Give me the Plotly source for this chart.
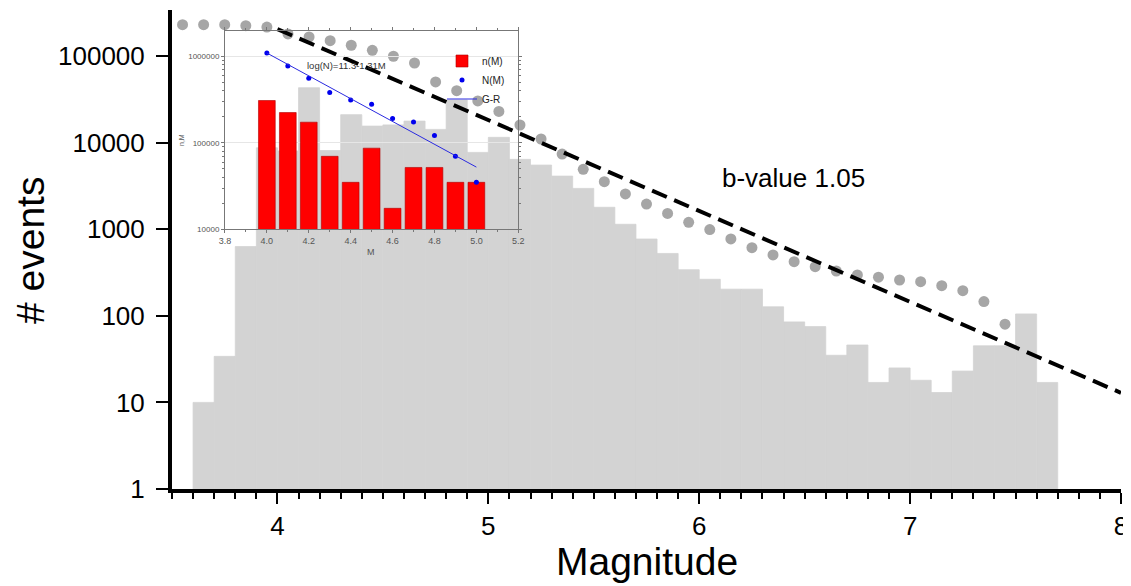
import plotly.graph_objects as go

# ---------------- data ----------------
# main histogram (bin centres, width 0.1)
hist_mag = [3.65, 3.75, 3.85, 3.95, 4.05, 4.15, 4.25, 4.35, 4.45, 4.55,
            4.65, 4.75, 4.85, 4.95, 5.05, 5.15, 5.25, 5.35, 5.45, 5.55,
            5.65, 5.75, 5.85, 5.95, 6.05, 6.15, 6.25, 6.35, 6.45, 6.55,
            6.65, 6.75, 6.85, 6.95, 7.05, 7.15, 7.25, 7.35, 7.45, 7.55,
            7.65]
hist_count = [10, 34, 630, 8700, 8000, 43000, 8100, 21000, 15500, 16000,
              17700, 14200, 31000, 7700, 11500, 6400, 5500, 4100, 2960, 1790,
              1140, 770, 525, 340, 264, 203, 203, 127, 85, 75,
              35, 46, 17, 25, 18, 13, 23, 45, 45, 105,
              17]

# cumulative number of events (grey dots)
cum_mag = [3.55, 3.65, 3.75, 3.85, 3.95, 4.05, 4.15, 4.25, 4.35, 4.45,
           4.55, 4.65, 4.75, 4.85, 4.95, 5.05, 5.15, 5.25, 5.35, 5.45,
           5.55, 5.65, 5.75, 5.85, 5.95, 6.05, 6.15, 6.25, 6.35, 6.45,
           6.55, 6.65, 6.75, 6.85, 6.95, 7.05, 7.15, 7.25, 7.35, 7.45]
cum_count = [230000, 230000, 230000, 224000, 216000, 179500, 165600, 150300, 133000, 116400,
             99300, 83000, 50100, 39800, 30300, 22900, 15960, 11000, 7380, 4920,
             3540, 2550, 1950, 1520, 1200, 990, 771, 611, 504, 422,
             369, 329, 296, 279, 259, 248, 223, 195, 146, 80]

# b-value fit line (end points)
fit_mag = [4.0, 8.0]
fit_count = [204000, 12.9]
bvalue_label = "b-value 1.05"

# inset data
inset_mag = [4.0, 4.1, 4.2, 4.3, 4.4, 4.5, 4.6, 4.7, 4.8, 4.9, 5.0]
inset_nM = [310000, 225000, 174000, 70000, 35000, 87000, 17500, 52000, 52000, 35000, 35000]
inset_NM = [1100000, 780000, 560000, 385000, 315000, 280000, 192000, 175000, 122000, 70000, 35000]
inset_gr_mag = [4.0, 5.0]
inset_gr_count = [1100000, 52500]
inset_label = "log(N)=11.3-1.31M"

main_yticks = [1, 10, 100, 1000, 10000, 100000]
main_yticktext = ["1", "10", "100", "1000", "10000", "100000"]
inset_yticks = [10000, 100000, 1000000]
inset_yticktext = ["10000", "100000", "1000000"]

FONT = "Liberation Sans, Arial, Helvetica, sans-serif"

fig = go.Figure()

# main histogram
fig.add_trace(go.Bar(x=hist_mag, y=hist_count, width=0.1,
                     marker=dict(color="#d3d3d3", line=dict(color="#d3d3d3", width=0.8)),
                     xaxis="x", yaxis="y", showlegend=False, hoverinfo="x+y"))

# inset traces
fig.add_trace(go.Bar(x=inset_mag, y=inset_nM, width=0.08, name="n(M)",
                     marker=dict(color="#ff0000", line=dict(color="#b00000", width=0.6)),
                     xaxis="x2", yaxis="y2"))
fig.add_trace(go.Scatter(x=inset_mag, y=inset_NM, mode="markers", name="N(M)",
                         marker=dict(color="#0000ee", size=5),
                         xaxis="x2", yaxis="y2"))
fig.add_trace(go.Scatter(x=inset_gr_mag, y=inset_gr_count, mode="lines", name="G-R",
                         line=dict(color="#2a2ae0", width=1),
                         xaxis="x2", yaxis="y2"))

# cumulative dots and fit line (overlay, drawn above the inset)
fig.add_trace(go.Scatter(x=cum_mag, y=cum_count, mode="markers",
                         marker=dict(color="#a6a6a6", size=11),
                         xaxis="x3", yaxis="y3", showlegend=False, cliponaxis=False))
fig.add_trace(go.Scatter(x=fit_mag, y=fit_count, mode="lines",
                         line=dict(color="black", width=4, dash="16px,8px"),
                         xaxis="x3", yaxis="y3", showlegend=False))

yr = [0, 5.531]
xr = [3.5, 8.0]

# page body has an 8px margin: shift the figure so the plot area sits where the reference has it
fig.update_layout(
    width=1123, height=578,
    margin=dict(l=164, r=10, t=2, b=97, autoexpand=False),
    paper_bgcolor="white", plot_bgcolor="rgba(0,0,0,0)",
    font=dict(family=FONT, color="black"),
    xaxis=dict(range=xr, showgrid=False, zeroline=False,
               showline=True, linecolor="black", linewidth=4,
               ticks="outside", ticklen=11, tickwidth=2, tickcolor="black",
               tickvals=[4, 5, 6, 7, 8], ticktext=["4", "5", "6", "7", "8"],
               minor=dict(ticks="outside", ticklen=6, tickwidth=1.5, tickcolor="black",
                          dtick=0.1, tick0=3.5, showgrid=False),
               tickfont=dict(size=26, family=FONT, color="black")),
    yaxis=dict(type="log", range=yr, showgrid=False, zeroline=False,
               showline=True, linecolor="black", linewidth=4,
               ticks="outside", ticklen=12, tickwidth=2, tickcolor="black",
               tickvals=main_yticks, ticktext=main_yticktext,
               ticklabelstandoff=6,
               tickfont=dict(size=26, family=FONT, color="black")),
    xaxis3=dict(range=xr, overlaying="x", anchor="y3", visible=False),
    yaxis3=dict(type="log", range=yr, overlaying="y", anchor="x3", visible=False),
    xaxis2=dict(domain=[0.0558, 0.3649], anchor="y2", range=[3.8, 5.2],
                showgrid=False, zeroline=False,
                showline=True, linecolor="#777777", linewidth=1, mirror="ticks",
                ticks="outside", ticklen=3, tickwidth=1, tickcolor="#777777",
                dtick=0.2, tick0=3.8, tickformat=".1f",
                minor=dict(ticks="outside", ticklen=2, dtick=0.1, tickcolor="#777777"),
                tickfont=dict(size=9, family=FONT, color="#555555")),
    yaxis2=dict(domain=[0.5422, 0.9568], anchor="x2", type="log", range=[4, 6.3],
                showgrid=True, gridcolor="#e6e6e6", gridwidth=1, zeroline=False,
                showline=True, linecolor="#777777", linewidth=1, mirror="ticks",
                ticks="outside", ticklen=3, tickwidth=1, tickcolor="#777777",
                tickvals=inset_yticks, ticktext=inset_yticktext,
                minor=dict(ticks="outside", ticklen=2, tickcolor="#777777", showgrid=False,
                           tickvals=[2e4, 3e4, 4e4, 5e4, 6e4, 7e4, 8e4, 9e4,
                                     2e5, 3e5, 4e5, 5e5, 6e5, 7e5, 8e5, 9e5, 2e6]),
                tickfont=dict(size=8, family=FONT, color="#555555")),
    legend=dict(x=(442 - 172) / 949, y=(489 - 80) / 479, xanchor="left", yanchor="middle",
                bgcolor="rgba(255,255,255,0)", font=dict(size=10, family=FONT, color="#222222"),
                tracegroupgap=0, itemwidth=30),
    showlegend=True,
    annotations=[
        dict(text="Magnitude", xref="paper", yref="paper", x=0.5, y=-0.1524,
             xanchor="center", yanchor="middle", showarrow=False,
             font=dict(size=39, family=FONT, color="black")),
        dict(text="# events", xref="paper", yref="paper", x=(31 - 172) / 949, y=0.4969,
             xanchor="center", yanchor="middle", textangle=-90, showarrow=False,
             font=dict(size=39, family=FONT, color="black")),
        dict(text=bvalue_label, xref="paper", yref="paper", x=(793 - 172) / 949,
             y=(489 - 178) / 479, xanchor="center", yanchor="middle", showarrow=False,
             font=dict(size=26, family=FONT, color="black")),
        dict(text=inset_label, xref="paper", yref="paper", x=(346 - 172) / 949,
             y=(489 - 66) / 479, xanchor="center", yanchor="middle", showarrow=False,
             font=dict(size=9.5, family=FONT, color="#333333")),
        dict(text="n,M", xref="paper", yref="paper", x=(181 - 172) / 949,
             y=(489 - 140) / 479, xanchor="center", yanchor="middle", textangle=-90,
             showarrow=False, font=dict(size=7, family=FONT, color="#555555")),
        dict(text="M", xref="paper", yref="paper", x=(371 - 172) / 949,
             y=(489 - 252) / 479, xanchor="center", yanchor="middle",
             showarrow=False, font=dict(size=9, family=FONT, color="#555555")),
    ],
)

fig.write_html("out.html")
